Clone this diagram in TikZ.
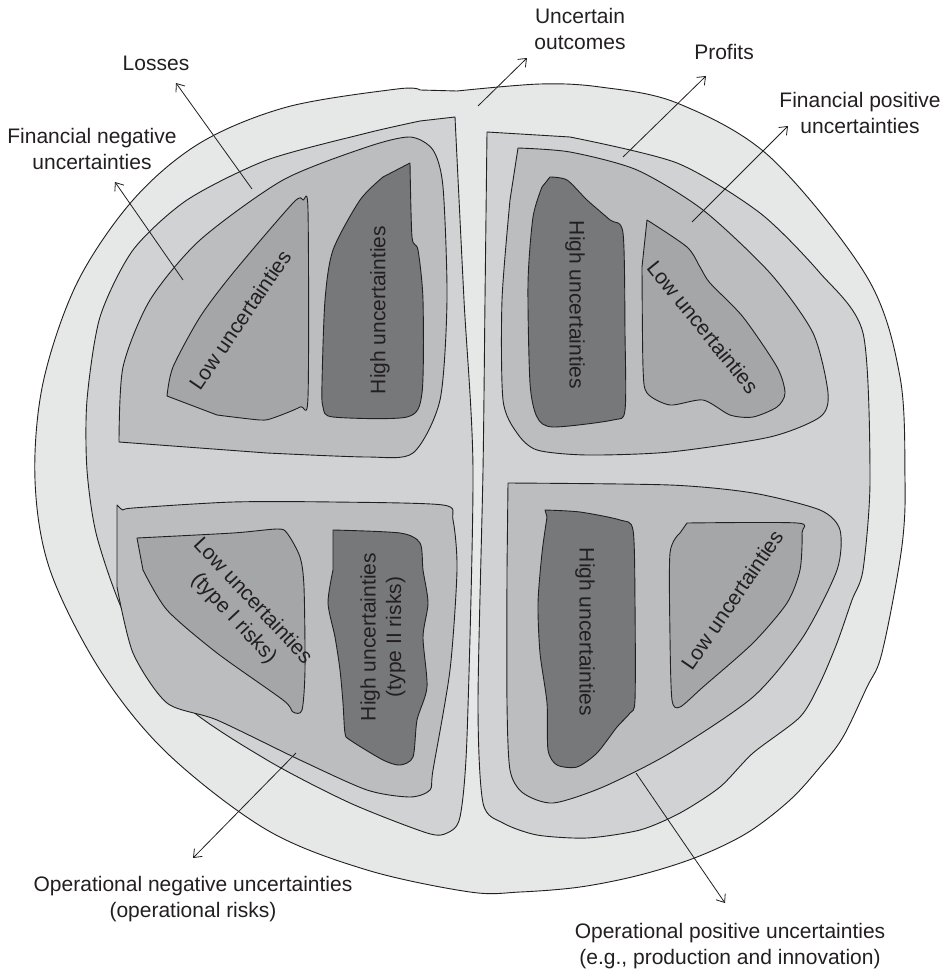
\documentclass[tikz,border=0pt]{standalone}
\usepackage{fontspec}
\setmainfont{Liberation Sans}
\usetikzlibrary{arrows.meta}
\definecolor{cOuter}{HTML}{E6E7E7}
\definecolor{cHalf}{HTML}{D1D2D4}
\definecolor{cQuad}{HTML}{BCBDBF}
\definecolor{cLow}{HTML}{A5A6A8}
\definecolor{cHigh}{HTML}{77787A}
\definecolor{cInk}{HTML}{231F20}
\tikzset{
  blob/.style={draw=cInk, line width=0.9pt, line join=round},
  lbl/.style={text=cInk, font=\fontsize{21}{25.5}\selectfont, align=center, inner sep=0pt},
  inlbl/.style={text=cInk, font=\fontsize{21}{25.5}\selectfont, align=center, inner sep=0pt},
  pointer/.style={draw=cInk, line width=0.8pt, -{Straight Barb[length=7pt,width=11pt]}},
}
\begin{document}
\begin{tikzpicture}[x=1pt,y=-1pt]
\useasboundingbox (0,0) rectangle (947,974);
\fill[white] (0,0) rectangle (947,974);
% outer
\path[blob, fill=cOuter] plot[smooth, tension=0.55] coordinates {
 (457,91) (540,84) (600,87) (677,103) (770,157) (867,277) (900,377) (905,480) (903,537)
 (893,600) (880,660) (867,687) (843,737) (820,767) (790,800) (747,833) (697,857)
 (640,875) (580,887) (520,892) (470,892) (367,870) (267,830) (167,753) (100,670) (50,570)
 (35,480) (43,383) (77,283) (133,200) (200,143) (287,107) (397,89) (420,90)} -- cycle;
% halves
\path[blob, fill=cHalf] plot[smooth, tension=0.45] coordinates {
 (455,117) (464,300) (473,470) (467,737) (460,817) (447,833) (427,833) (350,803)
 (267,760) (183,703) (127,620) (97,537) (87,470) (87,400) (100,317) (133,250)
 (187,200) (267,160) (367,133) (420,121)} -- cycle;
\path[blob, fill=cHalf] plot[smooth, tension=0.45] coordinates {
 (487,132) (485,300) (483,470) (478,703) (483,803) (503,823) (537,835) (587,838)
 (640,830) (680,813) (720,787) (753,753) (800,717) (820,683) (837,643) (852,600)
 (863,570) (870,480) (863,333) (820,273) (760,213) (677,163) (570,137)} -- cycle;
% quadrants
\path[blob, fill=cQuad] plot[smooth, tension=0.45] coordinates {
 (119,442) (123,367) (150,300) (200,240) (283,180) (367,147) (410,137) (433,150)
 (443,187) (447,300) (440,400) (413,453) (367,457) (267,453)} -- cycle;
\path[blob, fill=cQuad] plot[smooth, tension=0.45] coordinates {
 (518,148) (570,152) (637,170) (703,210) (770,273) (813,333) (828,393) (820,417)
 (770,437) (670,452) (587,455) (537,450) (517,433) (503,400) (502,300) (510,200)} -- cycle;
\path[blob, fill=cQuad] plot[smooth, tension=0.45] coordinates {
 (117,505) (123,510) (133,508) (233,502) (333,502) (443,505) (453,520) (457,570) (450,670)
 (433,770) (430,790) (410,797) (367,790) (300,760) (217,720) (167,703) (133,653)
 (117,587)} -- cycle;
\path[blob, fill=cQuad] plot[smooth, tension=0.45] coordinates {
 (508,483) (670,485) (753,493) (820,510) (840,530) (837,570) (803,637) (753,697)
 (670,753) (603,787) (553,803) (523,793) (510,770) (507,703) (507,570)} -- cycle;
% low
\path[blob, fill=cLow] plot[smooth, tension=0.45] coordinates {
 (167,396) (173,367) (200,317) (233,273) (293,203) (303,200) (308,210) (308,397)
 (300,407) (273,418) (260,420) (217,415)} -- cycle;
\path[blob, fill=cLow] plot[smooth, tension=0.45] coordinates {
 (647,220) (687,247) (700,267) (710,283) (743,317) (777,367) (785,393) (777,407)
 (753,417) (730,415) (703,400) (670,405) (647,393) (643,367) (642,267)} -- cycle;
\path[blob, fill=cLow] plot[smooth, tension=0.45] coordinates {
 (137,538) (233,533) (277,529) (287,533) (300,557) (304,587) (305,670) (302,710)
 (293,712) (283,700) (217,653) (167,610) (143,570)} -- cycle;
\path[blob, fill=cLow] plot[smooth, tension=0.45] coordinates {
 (687,523) (797,523) (802,533) (800,570) (787,603) (753,643) (703,687) (680,707)
 (672,700) (670,637) (670,553) (680,533)} -- cycle;
% high
\path[blob, fill=cHigh] plot[smooth, tension=0.45] coordinates {
 (410,163) (412,237) (418,250) (423,300) (422,393) (407,417) (333,417) (323,407)
 (322,383) (325,300) (333,250) (360,200) (383,177)} -- cycle;
\path[blob, fill=cHigh] plot[smooth, tension=0.45] coordinates {
 (550,177) (567,180) (587,200) (610,220) (623,233) (625,333) (625,410) (613,420)
 (553,427) (537,417) (530,383) (528,283) (533,217) (542,187)} -- cycle;
\path[blob, fill=cHigh] plot[smooth, tension=0.45] coordinates {
 (333,530) (400,533) (420,543) (423,570) (428,603) (423,637) (427,687) (417,720)
 (413,757) (400,765) (383,760) (350,740) (345,733) (343,703) (340,670) (335,637)
 (328,603) (333,570)} -- cycle;
\path[blob, fill=cHigh] plot[smooth, tension=0.45] coordinates {
 (545,510) (580,512) (620,520) (633,530) (635,603) (635,700) (630,713) (617,727)
 (597,753) (577,767) (557,765) (548,750) (547,703) (540,653) (538,603) (542,553)
 (547,517)} -- cycle;
% inner labels
\node[inlbl, rotate=55.7] (tlLow) at (240,320) {Low uncertainties};
\node[inlbl, rotate=90] (tlHigh) at (380,310) {High uncertainties};
\node[inlbl, rotate=-90] (trHigh) at (575,305) {High uncertainties};
\node[inlbl, rotate=-51] (trLow) at (703,327) {Low uncertainties};
\node[inlbl, rotate=-47] (blLow) at (243,610) {Low uncertainties\\(type I risks)};
\node[inlbl, rotate=90] (blHigh) at (383,637) {High uncertainties\\(type II risks)};
\node[inlbl, rotate=-90] (brHigh) at (585,632) {High uncertainties};
\node[inlbl, rotate=55.7] (brLow) at (732,600) {Low uncertainties};
% outer labels
\node[lbl] (losses) at (156,63) {Losses};
\node[lbl] (finneg) at (92,149) {Financial negative\\uncertainties};
\node[lbl] (uncout) at (580,29) {Uncertain\\outcomes};
\node[lbl] (profits) at (724,52) {Profits};
\node[lbl] (finpos) at (860,113) {Financial positive\\uncertainties};
\node[lbl] (opneg) at (193,899) {Operational negative uncertainties\\(operational risks)};
\node[lbl] (oppos) at (730,946) {Operational positive uncertainties\\(e.g., production and innovation)};
% pointer ends
\coordinate (aLossS) at (252,189); \coordinate (aLossE) at (176,83);
\coordinate (aFnS) at (183,280); \coordinate (aFnE) at (115,182);
\coordinate (aUoS) at (478,106); \coordinate (aUoE) at (527,58);
\coordinate (aPrS) at (623,157); \coordinate (aPrE) at (706,76);
\coordinate (aFpS) at (692,222); \coordinate (aFpE) at (788,126);
\coordinate (aOnS) at (296,753); \coordinate (aOnE) at (193,858);
\coordinate (aOpS) at (636,773); \coordinate (aOpE) at (725,903);
\draw[pointer] (aLossS) -- (aLossE);
\draw[pointer] (aFnS) -- (aFnE);
\draw[pointer] (aUoS) -- (aUoE);
\draw[pointer] (aPrS) -- (aPrE);
\draw[pointer] (aFpS) -- (aFpE);
\draw[pointer] (aOnS) -- (aOnE);
\draw[pointer] (aOpS) -- (aOpE);
\end{tikzpicture}
\end{document}
